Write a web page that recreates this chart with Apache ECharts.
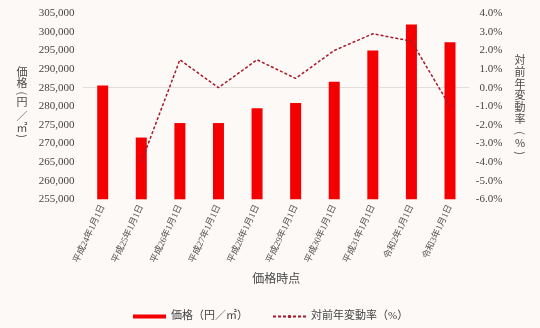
<!DOCTYPE html>
<html><head><meta charset="utf-8">
<script src="https://cdn.jsdelivr.net/npm/echarts@6/dist/echarts.min.js"></script>
<style>html,body{margin:0;padding:0;background:#fcf9f7;}#c{width:540px;height:328px;}</style>
</head><body><div id="c"></div>
<script>
const categories = ["平成24年1月1日","平成25年1月1日","平成26年1月1日","平成27年1月1日","平成28年1月1日","平成29年1月1日","平成30年1月1日","平成31年1月1日","令和2年1月1日","令和3年1月1日"];
const prices = [285600, 271600, 275500, 275500, 279500, 280900, 286600, 295000, 302000, 297200];
const changes = [null, -4.0, 1.5, 0.0, 1.5, 0.5, 2.0, 2.9, 2.5, -1.0];
const leftTitle = ["価","格","(","円","／","㎡",")"];
const rightTitle = ["対","前","年","変","動","率","(","%",")"];
const FF = '"Liberation Serif", "Noto Sans CJK JP", serif';

function verticalTitle(chars, x, ys) {
  return chars.map((ch, i) => {
    const isParen = ch === '(' || ch === ')';
    return {
      type: 'text', x: x, y: ys[i],
      rotation: isParen ? -Math.PI / 2 : 0,
      style: {text: ch, fontSize: 11, fill: '#4a4a4a',
        fontFamily: '"Noto Sans CJK JP"', align: 'center', verticalAlign: 'middle'}
    };
  });
}

const chart = echarts.init(document.getElementById('c'));
chart.setOption({
  backgroundColor: '#fcf9f7',
  animation: false,
  textStyle: {fontFamily: FF},
  grid: {left: 83.4, right: 70.7, top: 13.3, height: 186},
  legend: {
    left: 128, top: 306, itemGap: 24, itemWidth: 33, itemHeight: 4,
    textStyle: {fontSize: 11, color: '#444', fontFamily: FF},
    data: [{name: '価格（円／㎡）', icon: 'rect'}, {name: '対前年変動率（%）'}]
  },
  xAxis: {
    type: 'category', data: categories,
    name: '価格時点', nameLocation: 'middle', nameGap: 75,
    nameTextStyle: {fontSize: 12, color: '#444', fontFamily: FF},
    axisLine: {show: true, lineStyle: {color: '#e3dedc'}},
    axisTick: {show: false},
    axisLabel: {rotate: 65, fontSize: 9, color: '#555', margin: 6, fontFamily: FF}
  },
  yAxis: [{
    type: 'value', min: 255000, max: 305000, interval: 5000,
    splitLine: {show: false}, axisLine: {show: false}, axisTick: {show: false},
    axisLabel: {fontSize: 11, color: '#444', margin: 9,
      formatter: v => v.toLocaleString('en-US')}
  }, {
    type: 'value', min: -6, max: 4, interval: 1,
    splitLine: {show: false}, axisLine: {show: false}, axisTick: {show: false},
    axisLabel: {fontSize: 11, color: '#444', align: 'right', margin: 33,
      formatter: v => v.toFixed(1) + '%'}
  }],
  graphic: verticalTitle(leftTitle, 22, [71.7, 83.3, 93.3, 101.7, 116, 128.3, 136])
    .concat(verticalTitle(rightTitle, 520, [60, 71.7, 83.5, 95, 107, 118.5, 133, 143, 153])),
  series: [{
    name: '価格（円／㎡）', type: 'bar', data: prices, barWidth: 11,
    itemStyle: {color: '#f50000'}
  }, {
    name: '対前年変動率（%）', type: 'line', yAxisIndex: 1, data: changes,
    symbol: 'none', connectNulls: false,
    lineStyle: {color: '#a8182a', width: 1.5, type: [3, 2]},
    itemStyle: {color: '#a8182a'}
  }]
});
</script></body></html>
